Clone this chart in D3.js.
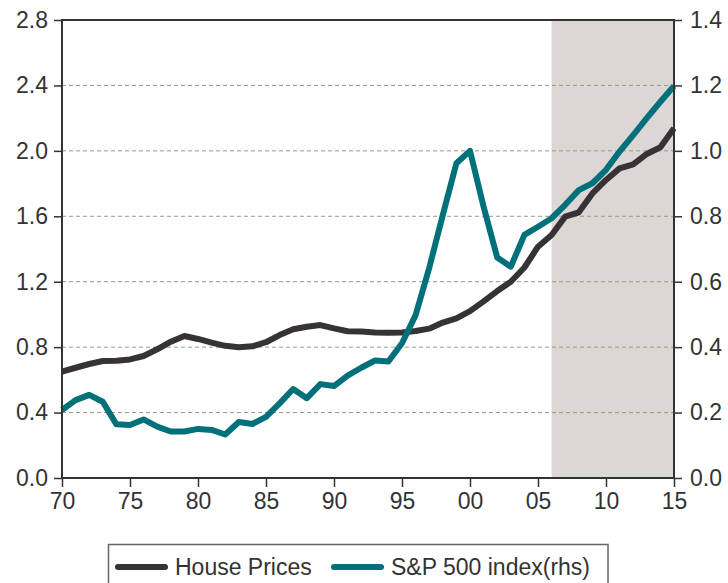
<!DOCTYPE html>
<html>
<head>
<meta charset="utf-8">
<script src="https://cdn.jsdelivr.net/npm/d3@7"></script>
<style>
  body { margin: 0; background: #fff; }
  text { font-family: "Liberation Sans", Arial, sans-serif; fill: #333; }
</style>
</head>
<body>
<div class="chart"></div>
<script>
var years = d3.range(1970, 2016);

// house prices, left axis
var housePrices = [0.65, 0.674, 0.697, 0.715, 0.717, 0.725, 0.746, 0.787, 0.833, 0.868,
  0.85, 0.828, 0.808, 0.80, 0.805, 0.83, 0.874, 0.909, 0.925, 0.935,
  0.915, 0.897, 0.895, 0.89, 0.888, 0.89, 0.899, 0.913, 0.95, 0.976,
  1.02, 1.08, 1.143, 1.2, 1.287, 1.414, 1.486, 1.598, 1.624, 1.74,
  1.822, 1.893, 1.918, 1.981, 2.022, 2.138];

// S&P 500 index, right axis
var sp500 = [0.208, 0.238, 0.254, 0.233, 0.164, 0.162, 0.179, 0.157, 0.142, 0.142,
  0.15, 0.147, 0.133, 0.171, 0.165, 0.187, 0.228, 0.272, 0.244, 0.287,
  0.281, 0.313, 0.337, 0.359, 0.356, 0.412, 0.498, 0.642, 0.804, 0.962,
  1.0, 0.829, 0.674, 0.646, 0.743, 0.768, 0.794, 0.835, 0.88, 0.901,
  0.942, 0.998, 1.048, 1.1, 1.15, 1.198];

var leftTicks = [0, 0.4, 0.8, 1.2, 1.6, 2.0, 2.4, 2.8];
var rightTicks = [0, 0.2, 0.4, 0.6, 0.8, 1.0, 1.2, 1.4];
var xTicks = [1970, 1975, 1980, 1985, 1990, 1995, 2000, 2005, 2010, 2015];
var shadeRange = [2006, 2015];

var seriesNames = ["House Prices", "S&P 500 index(rhs)"];
var seriesColors = ["#363236", "#00717b"];

var svgWidth = 728;
var svgHeight = 583;
var margin = { top: 20, right: 55, bottom: 105, left: 62 };
var width = 674 - margin.left;
var height = 478 - margin.top;

var svg = d3.select(".chart")
  .append("svg")
  .attr("width", svgWidth)
  .attr("height", svgHeight);

var chartGroup = svg.append("g")
  .attr("transform", `translate(${margin.left}, ${margin.top})`);

var x = d3.scaleLinear().domain([1970, 2015]).range([0, width]);
var yLeft = d3.scaleLinear().domain([0, 2.8]).range([height, 0]);
var yRight = d3.scaleLinear().domain([0, 1.4]).range([height, 0]);

// shaded forecast region
chartGroup.append("rect")
  .attr("x", x(shadeRange[0]))
  .attr("y", 0)
  .attr("width", x(shadeRange[1]) - x(shadeRange[0]))
  .attr("height", height)
  .attr("fill", "#dcd7d4");

// dashed grid lines
chartGroup.append("g")
  .selectAll("line")
  .data(leftTicks.filter(d => d > 0 && d < 2.8))
  .enter()
  .append("line")
  .attr("x1", 0)
  .attr("x2", width)
  .attr("y1", d => yLeft(d))
  .attr("y2", d => yLeft(d))
  .attr("stroke", "#a0948f")
  .attr("stroke-width", 1)
  .attr("stroke-dasharray", "4,3");

// series lines
var lineLeft = d3.line()
  .x((d, i) => x(years[i]))
  .y(d => yLeft(d));

var lineRight = d3.line()
  .x((d, i) => x(years[i]))
  .y(d => yRight(d));

chartGroup.append("path")
  .datum(housePrices)
  .attr("d", lineLeft)
  .attr("fill", "none")
  .attr("stroke", seriesColors[0])
  .attr("stroke-width", 6)
  .attr("stroke-linejoin", "round");

chartGroup.append("path")
  .datum(sp500)
  .attr("d", lineRight)
  .attr("fill", "none")
  .attr("stroke", seriesColors[1])
  .attr("stroke-width", 6)
  .attr("stroke-linejoin", "round");

// axes
var fmt = d3.format(".1f");

var leftAxis = chartGroup.append("g")
  .call(d3.axisLeft(yLeft).tickValues(leftTicks).tickFormat(fmt).tickSize(8).tickPadding(6));

var rightAxis = chartGroup.append("g")
  .attr("transform", `translate(${width}, 0)`)
  .call(d3.axisRight(yRight).tickValues(rightTicks).tickFormat(fmt).tickSize(8).tickPadding(8));

var bottomAxis = chartGroup.append("g")
  .attr("transform", `translate(0, ${height})`)
  .call(d3.axisBottom(x).tickValues(xTicks)
    .tickFormat(d => d3.format("02d")(d % 100)).tickSize(9).tickPadding(6));

[leftAxis, rightAxis, bottomAxis].forEach(function(ax) {
  ax.select(".domain").remove();
  ax.selectAll("line").attr("stroke", "#333").attr("stroke-width", 1.5);
  ax.selectAll("text").style("font-size", "23px").attr("fill", "#333");
});

// frame
chartGroup.append("rect")
  .attr("x", 0)
  .attr("y", 0)
  .attr("width", width)
  .attr("height", height)
  .attr("fill", "none")
  .attr("stroke", "#333")
  .attr("stroke-width", 2);

// legend
var legend = svg.append("g");

var legendBox = legend.append("rect")
  .attr("x", 108.5)
  .attr("y", 544.5)
  .attr("height", 60)
  .attr("fill", "#fff")
  .attr("stroke", "#666")
  .attr("stroke-width", 1.5);

var itemX = [118, 334];
var textEnd = 0;
seriesNames.forEach(function(name, i) {
  legend.append("line")
    .attr("x1", itemX[i])
    .attr("x2", itemX[i] + 47)
    .attr("y1", 567)
    .attr("y2", 567)
    .attr("stroke", seriesColors[i])
    .attr("stroke-width", 6)
    .attr("stroke-linecap", "round");
  var t = legend.append("text")
    .attr("x", itemX[i] + 57)
    .attr("y", 575)
    .style("font-size", "23px")
    .text(name);
  textEnd = itemX[i] + 57 + t.node().getComputedTextLength();
});
legendBox.attr("width", textEnd + 18 - 108.5);
</script>
</body>
</html>
